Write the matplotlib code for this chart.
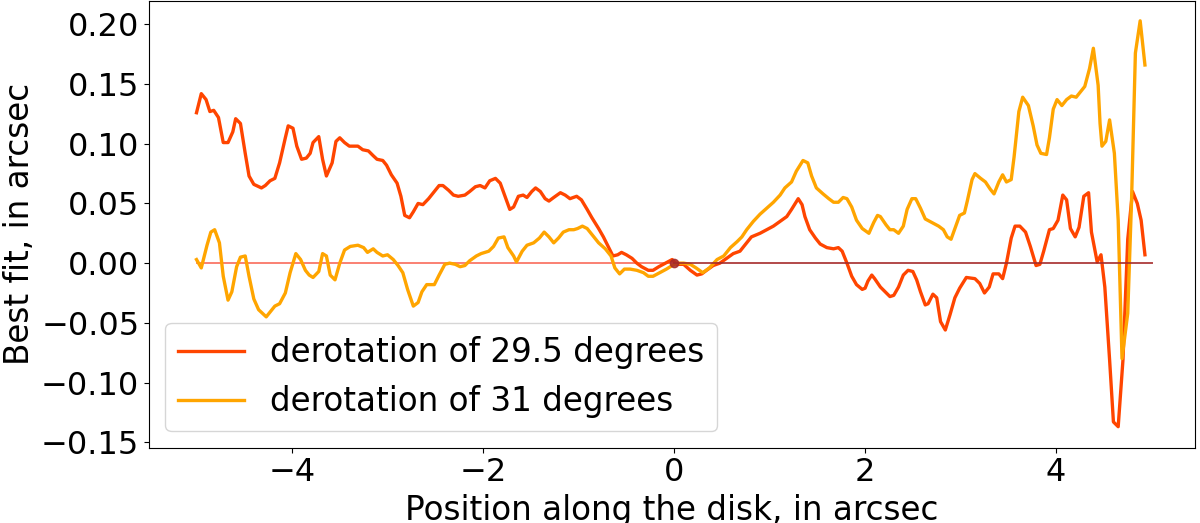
import matplotlib
matplotlib.use("Agg")
import matplotlib.pyplot as plt
import numpy as np

# derotation of 29.5 degrees
x_295 = [-5.00, -4.95, -4.90, -4.86, -4.82, -4.77, -4.72, -4.67, -4.62, -4.59, -4.54, -4.49,
         -4.45, -4.40, -4.32, -4.28, -4.23, -4.18, -4.13, -4.07, -4.04, -3.99, -3.95, -3.90,
         -3.85, -3.81, -3.78, -3.72, -3.68, -3.64, -3.58, -3.54, -3.50, -3.45, -3.40, -3.35,
         -3.31, -3.26, -3.20, -3.15, -3.11, -3.05, -3.01, -2.96, -2.90, -2.86, -2.82, -2.77,
         -2.73, -2.68, -2.63, -2.57, -2.52, -2.46, -2.42, -2.36, -2.31, -2.26, -2.19, -2.14,
         -2.08, -2.03, -1.98, -1.93, -1.87, -1.82, -1.77, -1.72, -1.68, -1.63, -1.58, -1.54,
         -1.49, -1.45, -1.40, -1.35, -1.31, -1.26, -1.19, -1.14, -1.09, -1.02, -0.97, -0.91,
         -0.86, -0.79, -0.74, -0.69, -0.64, -0.59, -0.55, -0.50, -0.44, -0.39, -0.34, -0.27,
         -0.22, -0.16, -0.09, -0.02, 0.03, 0.10, 0.17, 0.24, 0.29, 0.34, 0.41, 0.48,
         0.55, 0.62, 0.69, 0.76, 0.81, 0.90, 0.97, 1.04, 1.11, 1.18, 1.23, 1.30,
         1.34, 1.37, 1.42, 1.48, 1.53, 1.60, 1.67, 1.72, 1.76, 1.81, 1.86, 1.91,
         1.97, 2.00, 2.03, 2.07, 2.10, 2.16, 2.21, 2.26, 2.30, 2.35, 2.40, 2.45,
         2.50, 2.54, 2.58, 2.63, 2.66, 2.71, 2.75, 2.79, 2.84, 2.89, 2.94, 2.99,
         3.06, 3.15, 3.20, 3.25, 3.30, 3.34, 3.40, 3.44, 3.48, 3.53, 3.57, 3.62,
         3.68, 3.73, 3.79, 3.83, 3.87, 3.93, 3.97, 4.02, 4.07, 4.11, 4.15, 4.20,
         4.24, 4.29, 4.34, 4.37, 4.43, 4.47, 4.51, 4.56, 4.60, 4.65, 4.70, 4.75,
         4.80, 4.85, 4.89, 4.93]
y_295 = [0.126, 0.142, 0.137, 0.127, 0.128, 0.122, 0.101, 0.101, 0.110, 0.121, 0.117, 0.092,
         0.073, 0.066, 0.063, 0.065, 0.069, 0.071, 0.084, 0.105, 0.115, 0.113, 0.098, 0.087,
         0.088, 0.092, 0.101, 0.106, 0.087, 0.073, 0.084, 0.102, 0.105, 0.101, 0.098, 0.098,
         0.098, 0.095, 0.094, 0.090, 0.087, 0.086, 0.082, 0.074, 0.067, 0.056, 0.040, 0.038,
         0.043, 0.050, 0.049, 0.054, 0.059, 0.065, 0.065, 0.061, 0.057, 0.056, 0.057, 0.060,
         0.064, 0.065, 0.063, 0.069, 0.071, 0.067, 0.056, 0.045, 0.047, 0.056, 0.057, 0.055,
         0.060, 0.063, 0.060, 0.054, 0.052, 0.055, 0.059, 0.057, 0.054, 0.056, 0.053, 0.045,
         0.038, 0.029, 0.022, 0.014, 0.006, 0.007, 0.009, 0.007, 0.004, 0.000, -0.003, -0.006,
         -0.006, -0.003, 0.000, 0.003, -0.001, -0.001, -0.006, -0.010, -0.009, -0.006, -0.002, 0.000,
         0.004, 0.008, 0.010, 0.017, 0.022, 0.025, 0.028, 0.031, 0.035, 0.039, 0.045, 0.054,
         0.049, 0.039, 0.028, 0.021, 0.016, 0.013, 0.012, 0.013, 0.010, 0.000, -0.011, -0.018,
         -0.022, -0.021, -0.015, -0.010, -0.013, -0.020, -0.024, -0.028, -0.027, -0.020, -0.010, -0.006,
         -0.007, -0.014, -0.024, -0.035, -0.034, -0.026, -0.029, -0.049, -0.056, -0.043, -0.029, -0.021,
         -0.012, -0.013, -0.017, -0.025, -0.020, -0.009, -0.009, -0.013, 0.000, 0.021, 0.031, 0.031,
         0.026, 0.014, -0.002, -0.001, 0.010, 0.028, 0.029, 0.036, 0.057, 0.053, 0.029, 0.022,
         0.030, 0.056, 0.059, 0.026, 0.001, 0.007, -0.020, -0.081, -0.133, -0.137, -0.081, 0.020,
         0.060, 0.050, 0.036, 0.007]

# derotation of 31 degrees
x_31 = [-5.00, -4.95, -4.89, -4.85, -4.81, -4.76, -4.72, -4.67, -4.63, -4.58, -4.54, -4.49,
        -4.45, -4.40, -4.35, -4.31, -4.27, -4.23, -4.18, -4.13, -4.07, -4.02, -3.96, -3.91,
        -3.86, -3.82, -3.78, -3.72, -3.68, -3.64, -3.60, -3.55, -3.50, -3.45, -3.39, -3.31,
        -3.25, -3.21, -3.15, -3.11, -3.05, -3.00, -2.94, -2.89, -2.84, -2.79, -2.73, -2.68,
        -2.64, -2.59, -2.51, -2.46, -2.40, -2.35, -2.29, -2.24, -2.19, -2.14, -2.07, -2.02,
        -1.94, -1.89, -1.84, -1.78, -1.74, -1.68, -1.65, -1.59, -1.54, -1.47, -1.41, -1.36,
        -1.31, -1.26, -1.21, -1.16, -1.10, -1.05, -1.01, -0.96, -0.91, -0.86, -0.79, -0.72,
        -0.66, -0.62, -0.57, -0.52, -0.46, -0.39, -0.32, -0.27, -0.22, -0.15, -0.08, -0.02,
        0.03, 0.10, 0.17, 0.23, 0.30, 0.37, 0.45, 0.52, 0.59, 0.66, 0.71, 0.76,
        0.83, 0.90, 0.97, 1.04, 1.11, 1.16, 1.23, 1.28, 1.35, 1.40, 1.44, 1.49,
        1.56, 1.62, 1.67, 1.72, 1.77, 1.81, 1.86, 1.91, 1.97, 2.04, 2.09, 2.13,
        2.16, 2.22, 2.26, 2.30, 2.35, 2.40, 2.44, 2.49, 2.53, 2.58, 2.63, 2.70,
        2.77, 2.82, 2.86, 2.90, 2.95, 2.99, 3.04, 3.07, 3.12, 3.15, 3.21, 3.26,
        3.31, 3.35, 3.40, 3.44, 3.48, 3.53, 3.56, 3.61, 3.65, 3.71, 3.76, 3.80,
        3.84, 3.90, 3.93, 3.97, 4.01, 4.06, 4.11, 4.16, 4.21, 4.25, 4.30, 4.35,
        4.39, 4.44, 4.46, 4.48, 4.52, 4.56, 4.61, 4.65, 4.69, 4.75, 4.79, 4.83,
        4.88, 4.93]
y_31 = [0.003, -0.004, 0.015, 0.026, 0.028, 0.017, -0.011, -0.031, -0.024, -0.003, 0.005, 0.006,
        -0.011, -0.030, -0.039, -0.042, -0.045, -0.041, -0.036, -0.034, -0.025, -0.008, 0.008, 0.003,
        -0.006, -0.010, -0.012, -0.007, 0.008, 0.006, -0.010, -0.014, 0.000, 0.011, 0.014, 0.015,
        0.013, 0.009, 0.012, 0.009, 0.006, 0.007, 0.003, -0.002, -0.008, -0.022, -0.036, -0.033,
        -0.024, -0.018, -0.018, -0.010, -0.001, 0.000, -0.001, -0.003, -0.002, 0.002, 0.006, 0.008,
        0.010, 0.014, 0.021, 0.022, 0.013, 0.006, 0.001, 0.010, 0.015, 0.017, 0.021, 0.026,
        0.022, 0.017, 0.021, 0.026, 0.028, 0.028, 0.029, 0.031, 0.029, 0.024, 0.017, 0.012,
        0.006, -0.004, -0.009, -0.005, -0.005, -0.006, -0.008, -0.011, -0.011, -0.008, -0.005, -0.002,
        0.000, 0.000, -0.001, -0.004, -0.008, -0.004, 0.003, 0.006, 0.013, 0.018, 0.022, 0.028,
        0.035, 0.041, 0.046, 0.051, 0.057, 0.063, 0.068, 0.077, 0.086, 0.084, 0.073, 0.063,
        0.058, 0.054, 0.051, 0.051, 0.055, 0.054, 0.047, 0.036, 0.029, 0.025, 0.034, 0.040,
        0.039, 0.032, 0.028, 0.028, 0.025, 0.031, 0.045, 0.054, 0.054, 0.046, 0.037, 0.034,
        0.031, 0.028, 0.022, 0.020, 0.031, 0.040, 0.042, 0.052, 0.070, 0.075, 0.071, 0.068,
        0.062, 0.058, 0.068, 0.074, 0.068, 0.070, 0.089, 0.127, 0.139, 0.132, 0.115, 0.099,
        0.092, 0.091, 0.105, 0.129, 0.137, 0.132, 0.137, 0.140, 0.139, 0.143, 0.148, 0.163,
        0.180, 0.149, 0.117, 0.098, 0.102, 0.120, 0.092, 0.036, -0.080, -0.042, 0.053, 0.176,
        0.203, 0.166]

labels = ["derotation of 29.5 degrees", "derotation of 31 degrees"]
x_ticks = [-4, -2, 0, 2, 4]
y_ticks = [-0.15, -0.10, -0.05, 0.00, 0.05, 0.10, 0.15, 0.20]

fig = plt.figure(figsize=(12, 5.23), dpi=100)
ax = fig.add_axes([0.1242, 0.1440, 0.8717, 0.8541])

ax.plot(x_295, y_295, color="#ff4500", lw=2.4, label=labels[0])
ax.plot(x_31, y_31, color="#ffa500", lw=2.4, label=labels[1])

# zero reference line: light on the negative side, dark on the positive side
ax.plot([-5, 0], [0, 0], color="#fa8072", lw=1.4, zorder=1)
ax.plot([0, 5], [0, 0], color="#a52a2a", lw=1.4, alpha=0.85, zorder=3)
ax.plot([0], [0], "o", color="#a52a2a", ms=6, alpha=0.85, zorder=3)

ax.set_xticks(x_ticks)
ax.set_yticks(y_ticks)
ax.set_xlim(-5.497, 5.455)
ax.set_ylim(-0.1546, 0.2196)
ax.tick_params(labelsize=23)
ax.set_xlabel("Position along the disk, in arcsec", fontsize=23.5)
ax.set_ylabel("Best fit, in arcsec", fontsize=23.5)
ax.legend(loc="lower left", fontsize=23.5)

fig.savefig("out.png", dpi=100)
